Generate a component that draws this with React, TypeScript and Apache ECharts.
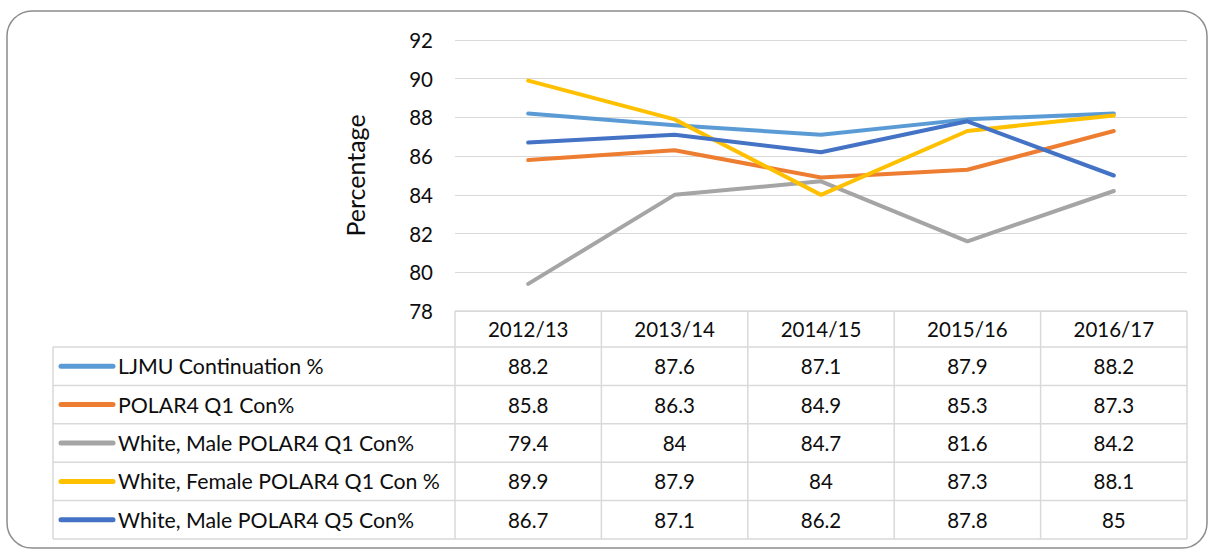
import React, { useEffect, useRef } from "react";
import * as echarts from "echarts";

const categories = ["2012/13", "2013/14", "2014/15", "2015/16", "2016/17"];
const seriesNames = [
  "LJMU Continuation %",
  "POLAR4 Q1 Con%",
  "White, Male POLAR4 Q1 Con%",
  "White, Female POLAR4 Q1 Con %",
  "White, Male POLAR4 Q5 Con%",
];
const ljmu = [88.2, 87.6, 87.1, 87.9, 88.2];
const polar4Q1 = [85.8, 86.3, 84.9, 85.3, 87.3];
const whiteMaleQ1 = [79.4, 84, 84.7, 81.6, 84.2];
const whiteFemaleQ1 = [89.9, 87.9, 84, 87.3, 88.1];
const whiteMaleQ5 = [86.7, 87.1, 86.2, 87.8, 85];
const seriesValues = [ljmu, polar4Q1, whiteMaleQ1, whiteFemaleQ1, whiteMaleQ5];
const colors = ["#5B9BD5", "#ED7D31", "#A5A5A5", "#FFC000", "#4472C4"];
const yMin = 78;
const yMax = 92;
const yStep = 2;

const FONT = "Lato, 'Noto Sans', sans-serif";
const FS_NUM = 20.5;
const FS_NAME = 21.3;
const FS_TITLE = 25;
const TXT = "#0d0d0d";

export default function App() {
  const ref = useRef<HTMLDivElement>(null);
  useEffect(() => {
    const chart = echarts.init(ref.current!, null, { renderer: "svg" });
    const option: any = {
      animation: false,
      backgroundColor: "#ffffff",
      textStyle: { fontFamily: FONT },
      grid: { left: 455, right: 25, top: 40, bottom: 238, containLabel: false },
      xAxis: {
        type: "category",
        data: categories,
        boundaryGap: true,
        axisLine: { show: false },
        axisTick: { show: false },
        axisLabel: { show: false },
        splitLine: { show: false },
      },
      yAxis: {
        type: "value",
        min: yMin,
        max: yMax,
        interval: yStep,
        name: "Percentage",
        nameLocation: "middle",
        nameRotate: 90,
        nameGap: 88,
        nameTextStyle: { fontSize: FS_TITLE, color: TXT, fontFamily: FONT },
        axisLine: { show: false },
        axisTick: { show: false },
        axisLabel: { fontSize: FS_NUM, color: TXT, margin: 22, fontFamily: FONT },
        splitLine: { lineStyle: { color: "#d9d9d9", width: 1 } },
      },
      series: seriesNames.map((n, i) => ({
        name: n,
        type: "line",
        data: seriesValues[i],
        showSymbol: false,
        symbol: "none",
        smooth: false,
        lineStyle: { color: colors[i], width: 4, cap: "round", join: "round" },
        itemStyle: { color: colors[i] },
      })),
    };
    chart.setOption(option);

    // Build the data table below the plot from the axis scale
    const centers = categories.map((_, i) => chart.convertToPixel({ xAxisIndex: 0 }, i) as number);
    const band = centers.length > 1 ? centers[1] - centers[0] : 146;
    const left = centers[0] - band / 2;
    const right = centers[centers.length - 1] + band / 2;
    const top = chart.convertToPixel({ yAxisIndex: 0 }, yMin) as number;
    const headerH = 36;
    const rowH = 38.4;
    const tableLeft = 53;
    const bottom = top + headerH + rowH * seriesNames.length;
    const stroke = "#d9d9d9";
    const lw = 1.5;
    const els: any[] = [];
    els.push({
      type: "rect",
      shape: { x: 7, y: 11, width: 1200, height: 537, r: 25 },
      style: { fill: "none", stroke: "#8c8c8c", lineWidth: 1.5 },
      silent: true,
    });
    els.push({ type: "line", shape: { x1: left, y1: top, x2: right, y2: top }, style: { stroke, lineWidth: lw } });
    for (let r = 0; r <= seriesNames.length; r++) {
      const y = top + headerH + r * rowH;
      els.push({ type: "line", shape: { x1: tableLeft, y1: y, x2: right, y2: y }, style: { stroke, lineWidth: lw } });
    }
    els.push({ type: "line", shape: { x1: tableLeft, y1: top + headerH, x2: tableLeft, y2: bottom }, style: { stroke, lineWidth: lw } });
    for (let c = 0; c <= categories.length; c++) {
      const x = left + c * band;
      els.push({ type: "line", shape: { x1: x, y1: top, x2: x, y2: bottom }, style: { stroke, lineWidth: lw } });
    }
    categories.forEach((cat, i) => {
      els.push({
        type: "text",
        x: centers[i],
        y: top + headerH / 2,
        style: { text: cat, fontSize: FS_NUM, fontFamily: FONT, fill: TXT, align: "center", verticalAlign: "middle" },
      });
    });
    seriesNames.forEach((name, r) => {
      const cy = top + headerH + r * rowH + rowH / 2;
      els.push({
        type: "line",
        shape: { x1: 61, y1: cy, x2: 113, y2: cy },
        style: { stroke: colors[r], lineWidth: 5, lineCap: "round" },
      });
      els.push({
        type: "text",
        x: 118,
        y: cy,
        style: { text: name, fontSize: FS_NAME, fontFamily: FONT, fill: TXT, align: "left", verticalAlign: "middle" },
      });
      seriesValues[r].forEach((v, i) => {
        els.push({
          type: "text",
          x: centers[i],
          y: cy,
          style: { text: String(v), fontSize: FS_NUM, fontFamily: FONT, fill: TXT, align: "center", verticalAlign: "middle" },
        });
      });
    });
    chart.setOption({ graphic: { elements: els } });

    return () => chart.dispose();
  }, []);
  return (
    <div
      ref={ref}
      style={{ position: "fixed", left: 0, top: 0, width: 1212, height: 549, background: "#fff" }}
    />
  );
}
